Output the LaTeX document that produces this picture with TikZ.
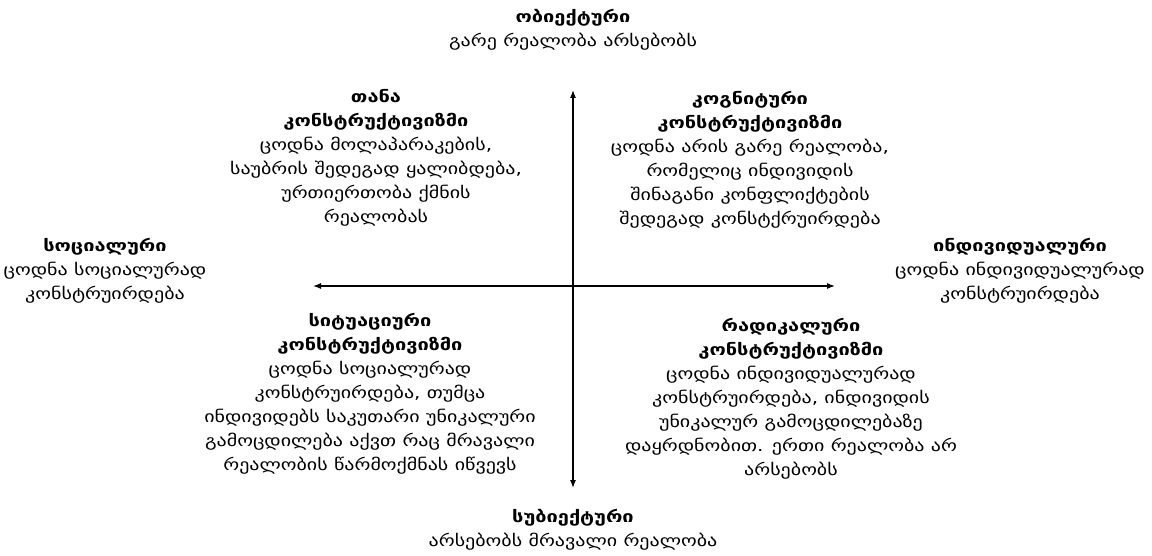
\documentclass[tikz,border=0pt]{standalone}
\usepackage{fontspec}
\setmainfont{DejaVu Sans}
\newfontfamily\geo[Script=Georgian,FakeStretch=1.25]{DejaVu Sans}
\usetikzlibrary{arrows.meta}
\tikzset{
  blk/.style={align=center, inner sep=0pt, font=\geo\fontsize{16}{24}\selectfont},
  axis/.style={line width=1.2pt, {Latex[length=8pt,width=6pt]}-{Latex[length=8pt,width=6pt]}}
}
\begin{document}
\begin{tikzpicture}[x=1pt,y=-1pt]
\useasboundingbox (0,0) rectangle (1152,556);
\coordinate (vt) at (573,90);
\coordinate (vb) at (573,488);
\coordinate (hl) at (313,286);
\coordinate (hr) at (835,286);
\draw[axis] (vt) -- (vb);
\draw[axis] (hl) -- (hr);
\node[blk] (top) at (573,30) {\textbf{ობიექტური}\\გარე რეალობა არსებობს};
\node[blk] (bot) at (573,530) {\textbf{სუბიექტური}\\არსებობს მრავალი რეალობა};
\node[blk] (left) at (105,271) {\textbf{სოციალური}\\ცოდნა სოციალურად\\კონსტრუირდება};
\node[blk] (right) at (1020,271) {\textbf{ინდივიდუალური}\\ცოდნა ინდივიდუალურად\\კონსტრუირდება};
\node[blk] (tl) at (376,158) {\textbf{თანა}\\\textbf{კონსტრუქტივიზმი}\\ცოდნა მოლაპარაკების,\\საუბრის შედეგად ყალიბდება,\\ურთიერთობა ქმნის\\რეალობას};
\node[blk] (tr) at (750,160) {\textbf{კოგნიტური}\\\textbf{კონსტრუქტივიზმი}\\ცოდნა არის გარე რეალობა,\\რომელიც ინდივიდის\\შინაგანი კონფლიქტების\\შედეგად კონსტქრუირდება};
\node[blk] (bl) at (370,394) {\textbf{სიტუაციური}\\\textbf{კონსტრუქტივიზმი}\\ცოდნა სოციალურად\\კონსტრუირდება, თუმცა\\ინდივიდებს საკუთარი უნიკალური\\გამოცდილება აქვთ რაც მრავალი\\რეალობის წარმოქმნას იწვევს};
\node[blk] (br) at (791,399) {\textbf{რადიკალური}\\\textbf{კონსტრუქტივიზმი}\\ცოდნა ინდივიდუალურად\\კონსტრუირდება, ინდივიდის\\უნიკალურ გამოცდილებაზე\\დაყრდნობით. ერთი რეალობა არ\\არსებობს};
\end{tikzpicture}
\end{document}
